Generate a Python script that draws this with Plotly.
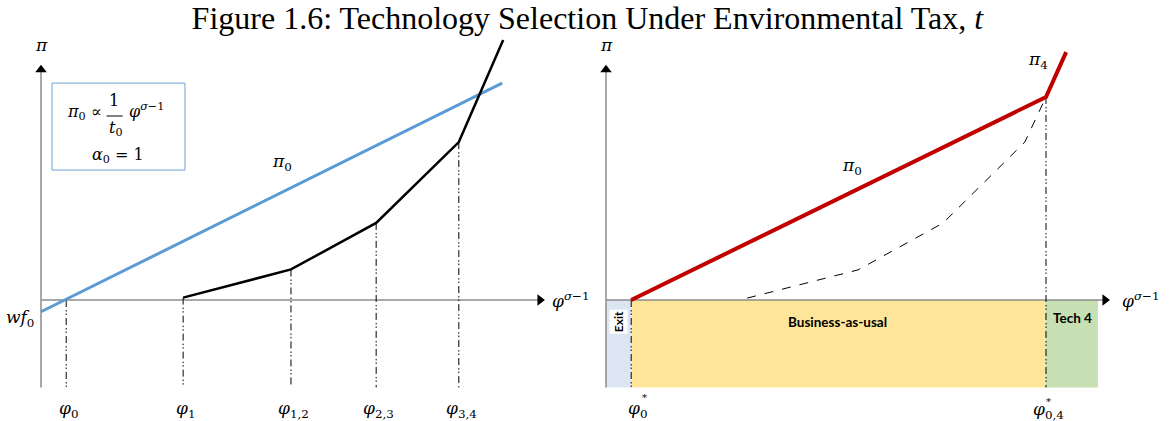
import plotly.graph_objects as go

# ---------------- data ----------------
# Left panel: profit lines in (phi^{sigma-1}, pi) units
left_cutoffs = [0.5, 2.82, 4.96, 6.65, 8.29]
left_cutoff_labels = ["φ<sub>0</sub>", "φ<sub>1</sub>", "φ<sub>1,2</sub>", "φ<sub>2,3</sub>", "φ<sub>3,4</sub>"]
left_cutoff_tops = [0.0, 0.1, 1.3, 3.28, 6.72]
pi0_x = [0.0, 9.15]
pi0_y = [-0.5, 9.23]
envelope_x = [2.82, 4.96, 6.65, 8.29, 9.17]
envelope_y = [0.1, 1.3, 3.28, 6.72, 11.06]

# Right panel
right_cutoffs = [0.5, 8.73]
right_cutoff_tops = [0.0, 8.64]
red_x = [0.5, 8.73, 9.13]
red_y = [0.0, 8.64, 10.55]
dashed_x = [2.80, 5.0, 6.69, 8.31, 8.73]
dashed_y = [0.08, 1.28, 3.28, 6.72, 8.64]
region_names = ["Exit", "Business-as-usal", "Tech 4"]
region_bounds = [0.0, 0.5, 8.73, 9.76]
region_colors = ["#dce6f2", "#ffe59a", "#c6e0b4"]

axis_x_end = 10.0
axis_y_end = 10.0
axis_y_bottom = -3.72

# ---------------- figure ----------------
fig = go.Figure()
SERIF = "Liberation Serif"
MATH = "DejaVu Serif"
SANS = "Lato"
AXIS_GRAY = "#8c8c8c"


def add_axes(xa, ya):
    fig.add_trace(go.Scatter(x=[0, axis_x_end - 0.1, None, 0, 0], y=[0, 0, None, axis_y_bottom, axis_y_end - 0.2],
                             mode="lines", line=dict(color=AXIS_GRAY, width=1.5),
                             xaxis=xa, yaxis=ya, hoverinfo="skip", showlegend=False))
    fig.add_trace(go.Scatter(x=[axis_x_end - 0.1], y=[0], mode="markers",
                             marker=dict(symbol="triangle-right", size=10, color="black"),
                             xaxis=xa, yaxis=ya, hoverinfo="skip", showlegend=False))
    fig.add_trace(go.Scatter(x=[0], y=[axis_y_end - 0.2], mode="markers",
                             marker=dict(symbol="triangle-up", size=10, color="black"),
                             xaxis=xa, yaxis=ya, hoverinfo="skip", showlegend=False))


def vlines(xs, tops, xa, ya):
    vx, vy = [], []
    for c, t in zip(xs, tops):
        vx += [c, c, None]
        vy += [t, axis_y_bottom, None]
    fig.add_trace(go.Scatter(x=vx, y=vy, mode="lines",
                             line=dict(color="black", width=1, dash="7px,3px,1.5px,2px,1.5px,3px"),
                             xaxis=xa, yaxis=ya, hoverinfo="skip", showlegend=False))


# regions (right panel)
for i, (name, col) in enumerate(zip(region_names, region_colors)):
    fig.add_shape(type="rect", xref="x2", yref="y2", x0=region_bounds[i], x1=region_bounds[i + 1],
                  y0=axis_y_bottom, y1=0, fillcolor=col, line=dict(width=0), layer="below")

# left panel
add_axes("x", "y")
vlines(left_cutoffs, left_cutoff_tops, "x", "y")
fig.add_trace(go.Scatter(x=pi0_x, y=pi0_y, mode="lines", line=dict(color="#5b9bd5", width=3),
                         xaxis="x", yaxis="y", showlegend=False))
fig.add_trace(go.Scatter(x=envelope_x, y=envelope_y, mode="lines", line=dict(color="black", width=2.5),
                         xaxis="x", yaxis="y", showlegend=False))

# right panel
add_axes("x2", "y2")
vlines(right_cutoffs, right_cutoff_tops, "x2", "y2")
fig.add_trace(go.Scatter(x=dashed_x, y=dashed_y, mode="lines", line=dict(color="black", width=1, dash="dash"),
                         xaxis="x2", yaxis="y2", showlegend=False))
fig.add_trace(go.Scatter(x=red_x, y=red_y, mode="lines", line=dict(color="#c00000", width=4),
                         xaxis="x2", yaxis="y2", showlegend=False))

ann = []


def txt(x, y, t, xr="x", yr="y", size=17, family=MATH, **kw):
    d = dict(x=x, y=y, xref=xr, yref=yr, text=t, showarrow=False,
             font=dict(family=family, size=size, color="black"))
    d.update(kw)
    ann.append(d)


# left labels
for c, lab in zip(left_cutoffs, left_cutoff_labels):
    txt(c + 0.05, -4.68, "<i>" + lab.replace("<sub>", "</i><sub>"))
txt(0, 10.85, "<i>π</i>")
txt(10.1, 0, "<i>φ</i><sup><i>σ</i>−1</sup>", xanchor="left")
txt(-0.1, -0.77, "<i>wf</i><sub>0</sub>", xanchor="right")
txt(4.78, 5.87, "<i>π</i><sub>0</sub>")

# formula box
fig.add_shape(type="rect", xref="x", yref="y", x0=0.218, x1=2.857, y0=5.53, y1=9.23,
              line=dict(color="#6fa3d6", width=1), fillcolor="white")
txt(0.86, 7.97, "<i>π</i><sub>0</sub> ∝", size=16)
txt(1.45, 8.5, "1", size=16)
fig.add_shape(type="line", xref="x", yref="y", x0=1.3, x1=1.62, y0=7.83, y1=7.83,
              line=dict(color="black", width=1))
txt(1.49, 7.3, "<i>t</i><sub>0</sub>", size=16)
txt(2.1, 8.05, "<i>φ</i><sup><i>σ</i>−1</sup>", size=16)
txt(1.53, 6.17, "<i>α</i><sub>0</sub> = 1", size=16)

# right labels
txt(0, 10.85, "<i>π</i>", xr="x2", yr="y2")
txt(10.2, 0, "<i>φ</i><sup><i>σ</i>−1</sup>", xr="x2", yr="y2", xanchor="left")
txt(4.88, 5.66, "<i>π</i><sub>0</sub>", xr="x2", yr="y2")
txt(8.57, 10.2, "<i>π</i><sub>4</sub>", xr="x2", yr="y2")
txt(right_cutoffs[0] + 0.12, -4.65, "<i>φ</i><sub>0</sub>", xr="x2", yr="y2")
txt(right_cutoffs[0] + 0.27, -4.15, "*", xr="x2", yr="y2", size=10)
txt(right_cutoffs[1] + 0.05, -4.72, "<i>φ</i><sub>0,4</sub>", xr="x2", yr="y2")
txt(right_cutoffs[1] + 0.05, -4.3, "*", xr="x2", yr="y2", size=10)

# region labels
txt(0.24, -0.94, "<b>Exit</b>", xr="x2", yr="y2", size=12, family=SANS, textangle=-90, bgcolor="white")
txt(4.6, -0.94, "<b>Business-as-usal</b>", xr="x2", yr="y2", size=13.5, family=SANS)
txt(9.25, -0.77, "<b>Tech 4</b>", xr="x2", yr="y2", size=13.5, family=SANS)

fig.update_layout(
    width=1170, height=421,
    margin=dict(l=0, r=0, t=0, b=0),
    paper_bgcolor="white", plot_bgcolor="white",
    annotations=ann,
    title=dict(text="Figure 1.6: Technology Selection Under Environmental Tax, <i>t</i>",
               x=0.502, xanchor="center", y=1 - 18 / 421, yanchor="middle",
               font=dict(family=SERIF, size=32, color="black")),
    xaxis=dict(domain=[0, 0.5], range=[-41 / 50.4, 544 / 50.4], visible=False, fixedrange=True),
    yaxis=dict(domain=[0, 1], range=[-121 / 23.5, 300 / 23.5], visible=False, fixedrange=True),
    xaxis2=dict(domain=[0.5, 1], range=[-21 / 50.4, 564 / 50.4], visible=False, fixedrange=True, anchor="y2"),
    yaxis2=dict(domain=[0, 1], range=[-121 / 23.5, 300 / 23.5], visible=False, fixedrange=True, anchor="x2"),
    showlegend=False,
)

fig.write_html("out.html", config={"displayModeBar": False},
               post_script="document.body.style.margin='0';document.body.style.padding='0';")
